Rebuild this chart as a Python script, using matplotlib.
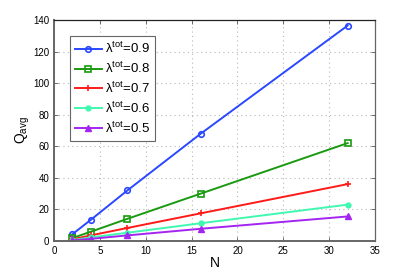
import matplotlib
matplotlib.use("Agg")
import matplotlib.pyplot as plt

plt.rcParams['font.family'] = ['Liberation Sans', 'DejaVu Sans']
plt.rcParams['mathtext.fontset'] = 'custom'
plt.rcParams['mathtext.rm'] = 'Liberation Sans'

N = [2, 4, 8, 16, 32]
q09 = [4.2, 13.3, 32, 68, 136.5]
q08 = [1.8, 5.8, 14, 30, 62]
q07 = [1.0, 3.5, 8.2, 17.5, 36]
q06 = [0.6, 2.2, 5.2, 11.2, 23]
q05 = [0.3, 1.3, 3.5, 7.7, 15.5]
labels = ['0.9', '0.8', '0.7', '0.6', '0.5']

fig = plt.figure(figsize=(4.15, 2.71), dpi=100)
ax = fig.add_axes([0.130, 0.111, 0.774, 0.815])

styles = [
    dict(color='#2a48ff', marker='o', mfc='none', ms=4, mew=1.2),
    dict(color='#1a9a10', marker='s', mfc='none', ms=4, mew=1.2),
    dict(color='#ff1a1a', marker='+', ms=5, mew=1.2),
    dict(color='#40f8b0', marker='o', ms=3.5, mew=1.0),
    dict(color='#a424f0', marker='^', ms=5, mew=1.0),
]
for y, lab, st in zip([q09, q08, q07, q06, q05], labels, styles):
    ax.plot(N, y, lw=1.4, label='λ$^{\\mathrm{tot}}$=' + lab, **st)

ax.set_xlim(0, 35)
ax.set_ylim(0, 140)
ax.set_xticks(range(0, 36, 5))
ax.set_yticks(range(0, 141, 20))
ax.tick_params(direction='in', top=True, right=True, labelsize=7, length=3, width=0.6, color='#555555')
ax.grid(True, linestyle=(0, (1, 3)), color='#b8b8b8', linewidth=0.8)
for s in ax.spines.values():
    s.set_color('#666666')
    s.set_linewidth(0.9)
ax.spines['top'].set_color('#222222')
ax.spines['left'].set_linewidth(1.4)
ax.spines['bottom'].set_linewidth(1.4)

ax.set_xlabel('N', fontsize=10, labelpad=0)
ax.set_ylabel('Q$_{\\mathrm{avg}}$', fontsize=10, labelpad=1)

leg = ax.legend(loc='upper left', bbox_to_anchor=(0.05, 0.928), borderaxespad=0,
                prop={'size': 9.5}, fancybox=False,
                edgecolor='#666666', framealpha=1, handlelength=2.0, borderpad=0.4,
                labelspacing=0.35, handletextpad=0.25)
leg.get_frame().set_linewidth(0.8)

fig.savefig('out.png', dpi=100)
